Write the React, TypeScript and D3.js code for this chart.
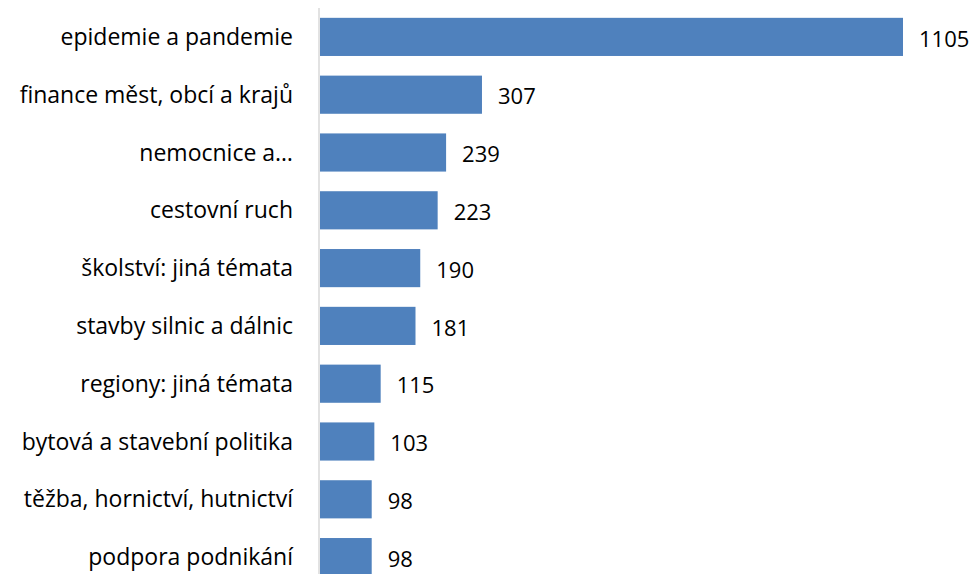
import React from "react";
import * as d3 from "d3";

const categories = [
  "epidemie a pandemie",
  "finance měst, obcí a krajů",
  "nemocnice a…",
  "cestovní ruch",
  "školství: jiná témata",
  "stavby silnic a dálnic",
  "regiony: jiná témata",
  "bytová a stavební politika",
  "těžba, hornictví, hutnictví",
  "podpora podnikání",
];
const values = [1105, 307, 239, 223, 190, 181, 115, 103, 98, 98];

const W = 974;
const H = 574;
const x0 = 320;
const x1 = 903;
const top = 8;
const bottom = 586;
const FONT = "'Open Sans', sans-serif";

export default function App() {
  const x = d3.scaleLinear().domain([0, 1105]).range([x0, x1]);
  const y = d3
    .scaleBand<string>()
    .domain(categories)
    .range([top, bottom])
    .paddingInner(0.34)
    .paddingOuter(0.17);
  return (
    <svg
      width={W}
      height={H}
      style={{ position: "absolute", left: 0, top: 0, background: "#fff" }}
    >
      {categories.map((c, i) => {
        const yy = y(c)!;
        const bw = y.bandwidth();
        return (
          <g key={c}>
            <rect
              x={x(0)}
              y={yy}
              width={x(values[i]) - x(0)}
              height={bw}
              fill="#4F81BD"
            />
            <text
              x={293}
              y={yy + bw / 2}
              dy="0.35em"
              textAnchor="end"
              fontFamily={FONT}
              fontSize={23}
              fill="#000"
            >
              {c}
            </text>
            <text
              x={x(values[i]) + 16}
              y={yy + bw / 2 + 2}
              dy="0.35em"
              textAnchor="start"
              fontFamily={FONT}
              fontSize={22}
              fill="#000"
            >
              {values[i]}
            </text>
          </g>
        );
      })}
      <line
        x1={x0 - 1}
        x2={x0 - 1}
        y1={top}
        y2={H}
        stroke="#D9D9D9"
        strokeWidth={1.5}
      />
    </svg>
  );
}
